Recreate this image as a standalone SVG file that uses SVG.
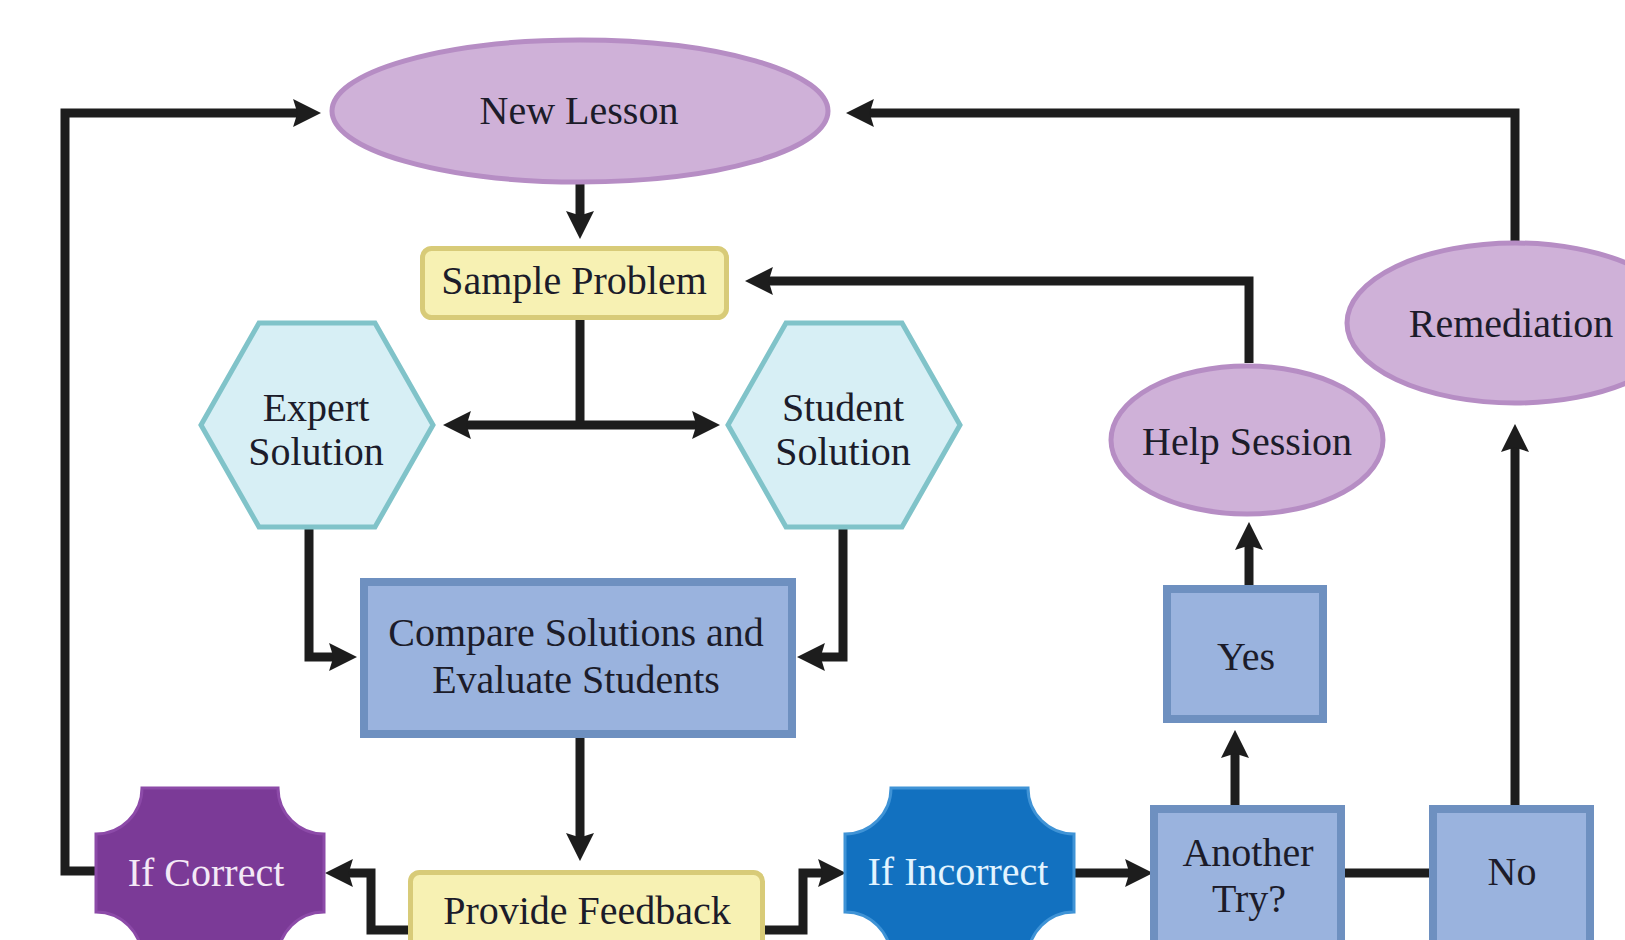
<svg xmlns="http://www.w3.org/2000/svg" width="1625" height="940" viewBox="0 0 1625 940">
<defs>
<style>
.t{font-size:40px;fill:#1c1c2a;text-anchor:middle}
.tw{fill:#f4e9f6}
.tc{fill:#e2f4ff}
.oval{fill:#cfb1d8;stroke:#b68dc4;stroke-width:5}
.yel{fill:#f7f1b3;stroke:#d8cb78;stroke-width:5}
.hex{fill:#d7eff5;stroke:#80c3c9;stroke-width:5}
.blu{fill:#9ab3de;stroke:#6e90c0;stroke-width:8}
.c{fill:none;stroke:#1d1d1d;stroke-width:9;stroke-linejoin:miter}
</style>
<marker id="ah" markerUnits="userSpaceOnUse" markerWidth="28" markerHeight="28" viewBox="0 0 26 26" refX="12" refY="13" orient="auto-start-reverse">
<path d="M0,0 L26,13 L0,26 L4,13 Z" fill="#1d1d1d"/>
</marker>
</defs>
<rect width="1625" height="940" fill="#ffffff"/>

<g id="connectors">
<path class="c" d="M100,871 H65 V113 H306" marker-end="url(#ah)"/>
<path class="c" d="M1515,241 V113 H861" marker-end="url(#ah)"/>
<path class="c" d="M580,183 V224" marker-end="url(#ah)"/>
<path class="c" d="M1249,363 V281 H760" marker-end="url(#ah)"/>
<path class="c" d="M580,320 V425"/>
<path class="c" d="M458,425 H705" marker-start="url(#ah)" marker-end="url(#ah)"/>
<path class="c" d="M309,528 V657 H342" marker-end="url(#ah)"/>
<path class="c" d="M843,528 V657 H812" marker-end="url(#ah)"/>
<path class="c" d="M580,738 V846" marker-end="url(#ah)"/>
<path class="c" d="M410,930 H371 V873 H340" marker-end="url(#ah)"/>
<path class="c" d="M765,930 H803 V873 H831" marker-end="url(#ah)"/>
<path class="c" d="M1074,873 H1138" marker-end="url(#ah)"/>
<path class="c" d="M1235,805 V745" marker-end="url(#ah)"/>
<path class="c" d="M1249,585 V537" marker-end="url(#ah)"/>
<path class="c" d="M1345,873 H1429"/>
<path class="c" d="M1515,805 V439" marker-end="url(#ah)"/>
</g>

<g id="new-lesson">
<ellipse class="oval" cx="580" cy="111" rx="248" ry="71"/>
<text class="t" font-family="Liberation Serif, serif" x="579" y="124">New Lesson</text>
</g>

<g id="sample-problem">
<rect class="yel" x="422.5" y="248.5" width="304" height="69" rx="9"/>
<text class="t" font-family="Liberation Serif, serif" x="574" y="294">Sample Problem</text>
</g>

<g id="expert-solution">
<polygon class="hex" points="259,323 375,323 433,425 375,527 259,527 201,425"/>
<text class="t" font-family="Liberation Serif, serif" x="316" y="421">Expert</text>
<text class="t" font-family="Liberation Serif, serif" x="316" y="465">Solution</text>
</g>

<g id="student-solution">
<polygon class="hex" points="786,323 902,323 960,425 902,527 786,527 728,425"/>
<text class="t" font-family="Liberation Serif, serif" x="843" y="421">Student</text>
<text class="t" font-family="Liberation Serif, serif" x="843" y="465">Solution</text>
</g>

<g id="compare">
<rect class="blu" x="364" y="582" width="428" height="152"/>
<text class="t" font-family="Liberation Serif, serif" x="576" y="646">Compare Solutions and</text>
<text class="t" font-family="Liberation Serif, serif" x="576" y="693">Evaluate Students</text>
</g>

<g id="provide-feedback">
<rect class="yel" x="410.5" y="872.5" width="352" height="100" rx="9"/>
<text class="t" font-family="Liberation Serif, serif" x="587" y="924">Provide Feedback</text>
</g>

<g id="if-correct">
<path d="M142,788 H278 A46,46 0 0 0 324,834 V912 A46,46 0 0 0 278,958 H142 A46,46 0 0 0 96,912 V834 A46,46 0 0 0 142,788 Z" fill="#7b3a97" stroke="#8c4aa8" stroke-width="3"/>
<text class="t tw" font-family="Liberation Serif, serif" x="206" y="886">If Correct</text>
</g>

<g id="if-incorrect">
<path d="M891,788 H1028 A46,46 0 0 0 1074,834 V912 A46,46 0 0 0 1028,958 H891 A46,46 0 0 0 845,912 V834 A46,46 0 0 0 891,788 Z" fill="#1271c0" stroke="#3f93d6" stroke-width="3"/>
<text class="t tc" font-family="Liberation Serif, serif" x="958" y="885">If Incorrect</text>
</g>

<g id="another-try">
<rect class="blu" x="1154" y="809" width="187" height="160"/>
<text class="t" font-family="Liberation Serif, serif" x="1248" y="866">Another</text>
<text class="t" font-family="Liberation Serif, serif" x="1249" y="912">Try?</text>
</g>

<g id="yes">
<rect class="blu" x="1167" y="589" width="156" height="130"/>
<text class="t" font-family="Liberation Serif, serif" x="1246" y="670">Yes</text>
</g>

<g id="no">
<rect class="blu" x="1433" y="809" width="157" height="160"/>
<text class="t" font-family="Liberation Serif, serif" x="1512" y="885">No</text>
</g>

<g id="help-session">
<ellipse class="oval" cx="1247" cy="440" rx="136" ry="74"/>
<text class="t" font-family="Liberation Serif, serif" x="1247" y="455">Help Session</text>
</g>

<g id="remediation">
<ellipse class="oval" cx="1515" cy="323" rx="168" ry="80"/>
<text class="t" font-family="Liberation Serif, serif" x="1511" y="337">Remediation</text>
</g>
</svg>
